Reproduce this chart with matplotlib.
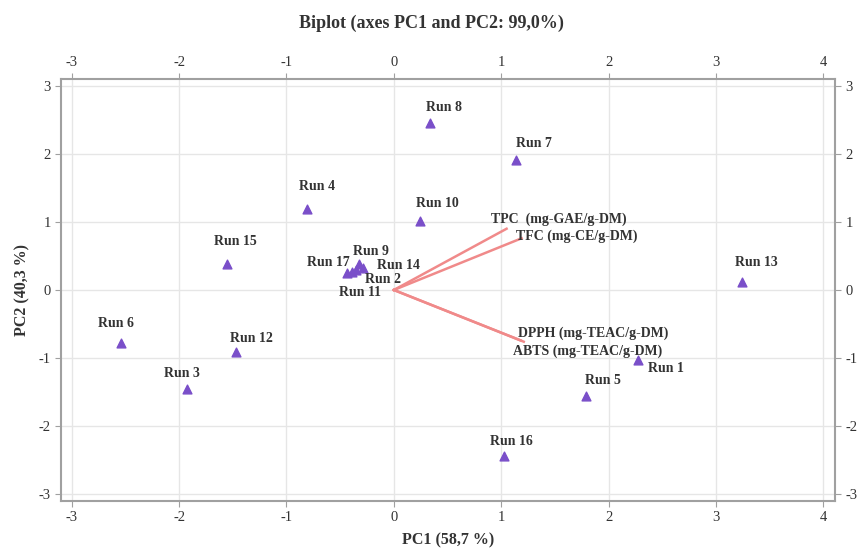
import numpy as np
import matplotlib.pyplot as plt

plt.rcParams['font.family'] = ['Liberation Serif', 'DejaVu Serif']
plt.rcParams['axes.unicode_minus'] = False

# observaciones (scores)
runs = ['Run 1', 'Run 2', 'Run 3', 'Run 4', 'Run 5', 'Run 6', 'Run 7', 'Run 8', 'Run 9',
        'Run 10', 'Run 11', 'Run 12', 'Run 13', 'Run 14', 'Run 15', 'Run 16', 'Run 17']
pc1 = [2.27, -0.35, -1.93, -0.81, 1.79, -2.54, 1.14, 0.34, -0.32,
       0.24, -0.39, -1.47, 3.24, -0.29, -1.55, 1.03, -0.44]
pc2 = [-1.03, 0.29, -1.46, 1.19, -1.56, -0.78, 1.91, 2.46, 0.38,
       1.01, 0.26, -0.91, 0.12, 0.32, 0.38, -2.44, 0.25]

# variables (loadings)
variables = ['TPC  (mg-GAE/g-DM)', 'TFC (mg-CE/g-DM)', 'DPPH (mg-TEAC/g-DM)', 'ABTS (mg-TEAC/g-DM)']
load1 = [1.05, 1.19, 1.21, 1.18]
load2 = [0.90, 0.76, -0.76, -0.74]

# offsets de etiquetas en pixeles
run_off = [(28, -8), (27, -9), (-5, 16), (10, 22), (17, 16), (-5, 20), (18, 16), (14, 15), (11, 13),
           (18, 18), (8, -20), (15, 13), (15, 19), (36, 3), (8, 23), (7, 15), (-18, 10)]
var_off = [(52, 9), (55, 2), (69, 8), (67, -11)]

fig = plt.figure(figsize=(8.63, 5.55), dpi=100)
ax = fig.add_axes([0.0707, 0.0973, 0.897, 0.7604])

ax.set_xlim(-3.10, 4.11)
ax.set_ylim(-3.10, 3.10)
ax.set_xticks(np.arange(-3, 5, 1))
ax.set_yticks(np.arange(-3, 4, 1))
ax.grid(True, color='#e6e6e6', linewidth=1)
ax.set_axisbelow(True)

for i in range(len(variables)):
    ax.plot([0, load1[i]], [0, load2[i]], color='#f08a8a', linewidth=1.8, zorder=2)
    ax.annotate(variables[i], (load1[i], load2[i]), xytext=var_off[i], textcoords='offset pixels',
                ha='center', va='center', fontsize=10, fontweight='bold', color='#333333')

ax.scatter(pc1, pc2, marker='^', s=40, color='#7a4fc9', zorder=3)
for i in range(len(runs)):
    ax.annotate(runs[i], (pc1[i], pc2[i]), xytext=run_off[i], textcoords='offset pixels',
                ha='center', va='center', fontsize=10, fontweight='bold', color='#333333')

for s in ax.spines.values():
    s.set_color('#a0a0a0')
    s.set_linewidth(1.5)
ax.tick_params(which='both', top=True, right=True, labeltop=True, labelright=True,
               color='#a0a0a0', length=4, labelsize=10.5, labelcolor='#333333')

ax.set_xlabel('PC1 (58,7 %)', fontsize=11.5, fontweight='bold', color='#333333', labelpad=6)
ax.set_ylabel('PC2 (40,3 %)', fontsize=11.5, fontweight='bold', color='#333333', labelpad=6)
fig.text(0.5, 0.958, 'Biplot (axes PC1 and PC2: 99,0%)', ha='center', va='center',
         fontsize=13, fontweight='bold', color='#333333')

fig.savefig('out.png', dpi=100)
